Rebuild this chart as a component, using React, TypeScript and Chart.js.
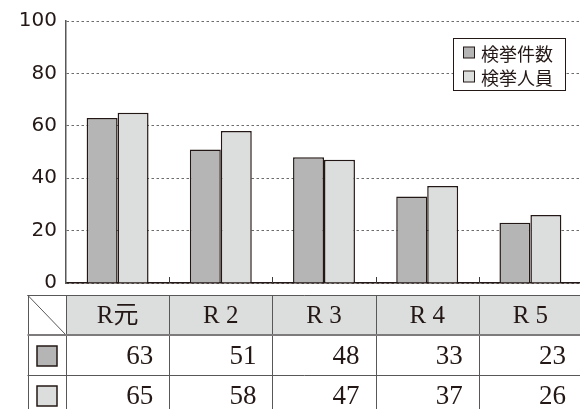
import { useEffect, useRef } from 'react';
import { Chart, registerables } from 'chart.js';

Chart.register(...registerables);

const categories = ['R元', 'R 2', 'R 3', 'R 4', 'R 5'];
const caseCounts = [63, 51, 48, 33, 23];
const personCounts = [65, 58, 47, 37, 26];
const seriesLabels = ['検挙件数', '検挙人員'];
const seriesColors = ['#b5b5b6', '#dcdddd'];
const yMin = 0;
const yMax = 100;
const yStep = 20;

const INK = '#231815';
const LINE = '#595757';

const overlayPlugin = {
  id: 'overlay',
  afterDraw(chart: any) {
    const { ctx, chartArea: ca } = chart;
    const x = chart.scales.x;
    const labels: string[] = chart.data.labels;
    const n = labels.length;
    const half = (x.getPixelForValue(1) - x.getPixelForValue(0)) / 2;
    const bounds: number[] = [];
    for (let i = 0; i < n; i++) bounds.push(x.getPixelForValue(i) - half);
    bounds.push(x.getPixelForValue(n - 1) + half);

    ctx.save();
    // category tick marks
    ctx.strokeStyle = '#3e3a39';
    ctx.lineWidth = 1;
    ctx.beginPath();
    for (let i = 1; i < n; i++) {
      const px = Math.round(bounds[i]) + 0.5;
      ctx.moveTo(px, ca.bottom);
      ctx.lineTo(px, ca.bottom - 6);
    }
    ctx.stroke();

    // legend
    const datasets = chart.data.datasets;
    const lx = 453.5, ly = 38.5, lw = 112, lh = 52;
    ctx.fillStyle = '#ffffff';
    ctx.fillRect(lx, ly, lw, lh);
    ctx.strokeStyle = INK;
    ctx.lineWidth = 1;
    ctx.strokeRect(lx, ly, lw, lh);
    ctx.font = '18px "Noto Sans CJK JP"';
    ctx.textBaseline = 'middle';
    ctx.textAlign = 'left';
    datasets.forEach((ds: any, i: number) => {
      const cy = 53 + i * 24;
      ctx.fillStyle = ds.backgroundColor;
      ctx.fillRect(463.5, cy - 6, 11, 11);
      ctx.strokeStyle = INK;
      ctx.strokeRect(463.5, cy - 6, 11, 11);
      ctx.fillStyle = INK;
      ctx.fillText(ds.label, 481, cy + 1);
    });

    // data table
    const tTop = 295;
    const rowH = 40;
    const tLeft = 27.5;
    const firstCol = ca.left;
    const right = bounds[n];
    ctx.fillStyle = '#dcdddd';
    ctx.fillRect(firstCol, tTop, right - firstCol, rowH);

    ctx.strokeStyle = LINE;
    ctx.lineWidth = 1;
    ctx.beginPath();
    [tTop, tTop + rowH * 2, tTop + rowH * 3].forEach((yy) => {
      ctx.moveTo(tLeft, yy + 0.5);
      ctx.lineTo(right, yy + 0.5);
    });
    const vx = [tLeft, firstCol, ...bounds.slice(1, n)];
    vx.forEach((xx) => {
      const px = Math.round(xx) + 0.5;
      ctx.moveTo(px, tTop);
      ctx.lineTo(px, tTop + rowH * 3);
    });
    // diagonal
    ctx.moveTo(tLeft, tTop);
    ctx.lineTo(firstCol, tTop + rowH);
    ctx.stroke();
    // header bottom line (thicker)
    ctx.strokeStyle = '#7d7b7b';
    ctx.lineWidth = 2;
    ctx.beginPath();
    ctx.moveTo(tLeft, tTop + rowH);
    ctx.lineTo(right, tTop + rowH);
    ctx.stroke();

    ctx.fillStyle = INK;
    ctx.font = '25px "Liberation Serif", "Noto Sans CJK JP"';
    ctx.textAlign = 'center';
    ctx.textBaseline = 'middle';
    labels.forEach((lab, i) => {
      ctx.fillText(lab, (bounds[i] + bounds[i + 1]) / 2, tTop + rowH / 2 + 1);
    });

    ctx.font = '27px "Liberation Serif"';
    ctx.textAlign = 'right';
    datasets.forEach((ds: any, r: number) => {
      const cy = tTop + rowH * (r + 1) + rowH / 2;
      // swatch
      ctx.fillStyle = ds.backgroundColor;
      ctx.fillRect(37, cy - 9, 20, 20);
      ctx.strokeStyle = INK;
      ctx.lineWidth = 1.5;
      ctx.strokeRect(37, cy - 9, 20, 20);
      ctx.fillStyle = INK;
      ds.data.forEach((v: number, i: number) => {
        ctx.fillText(String(v), bounds[i + 1] - 16, cy + 2);
      });
    });
    ctx.restore();
  },
};

export default function App() {
  const ref = useRef<HTMLCanvasElement | null>(null);
  useEffect(() => {
    if (!ref.current) return;
    const chart = new Chart(ref.current, {
      type: 'bar',
      data: {
        labels: categories,
        datasets: [
          {
            label: seriesLabels[0],
            data: caseCounts,
            backgroundColor: seriesColors[0],
            borderColor: INK,
            borderWidth: 1.5,
            barPercentage: 1,
            categoryPercentage: 0.6,
          },
          {
            label: seriesLabels[1],
            data: personCounts,
            backgroundColor: seriesColors[1],
            borderColor: INK,
            borderWidth: 1.5,
            barPercentage: 1,
            categoryPercentage: 0.6,
          },
        ],
      },
      options: {
        responsive: false,
        animation: false,
        layout: { padding: { top: 21, bottom: 126, left: 0, right: 0 } },
        plugins: { legend: { display: false }, tooltip: { enabled: false } },
        scales: {
          x: {
            ticks: { display: false },
            grid: { display: false },
            border: { display: true, color: INK, width: 1.5 },
            afterFit: (s: any) => {
              s.height = 0;
            },
          },
          y: {
            min: yMin,
            max: yMax,
            ticks: {
              stepSize: yStep,
              padding: 9,
              color: INK,
              font: { family: '"DejaVu Sans"', size: 20 },
            },
            grid: { color: '#6d6a6a', lineWidth: 1, drawTicks: false },
            border: { display: true, color: LINE, width: 1.5, dash: [2.5, 2.5] },
            afterFit: (s: any) => {
              s.width = 66;
            },
          },
        },
      },
      plugins: [overlayPlugin],
    } as any);
    return () => chart.destroy();
  }, []);
  return (
    <div style={{ position: 'fixed', left: 0, top: 0, width: 580, height: 409, overflow: 'hidden', background: '#fff' }}>
      <canvas ref={ref} width={582} height={409} style={{ display: 'block' }} />
    </div>
  );
}
